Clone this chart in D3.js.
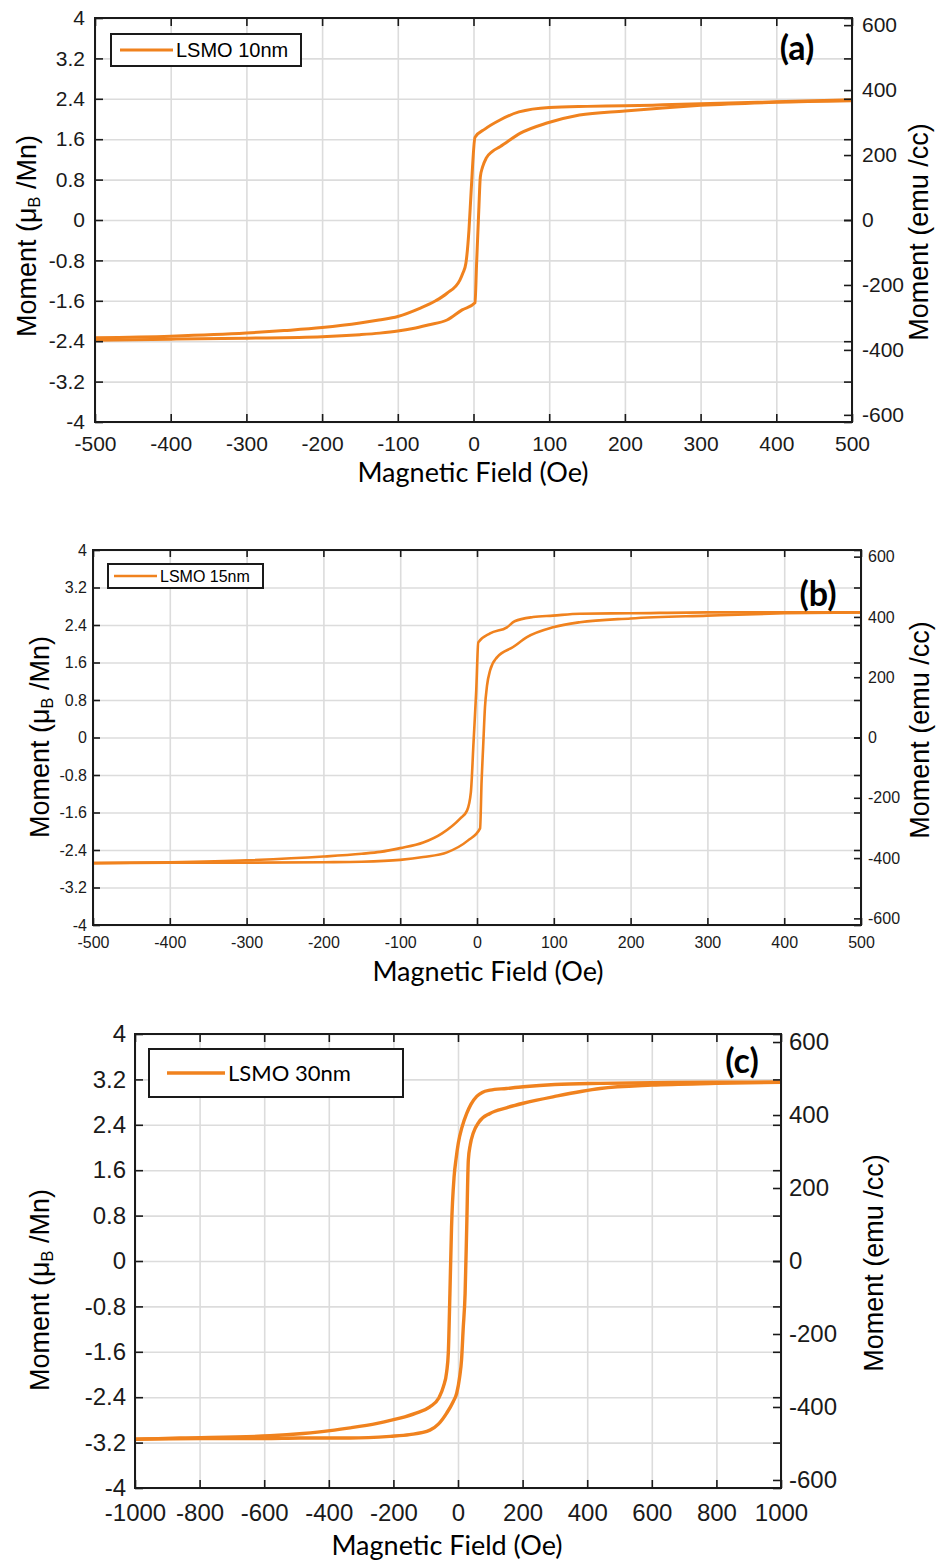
<!DOCTYPE html>
<html>
<head>
<meta charset="utf-8">
<script src="https://cdn.jsdelivr.net/npm/d3@7"></script>
<style>
  body { margin: 0; background: #fff; }
  svg { display: block; }
</style>
</head>
<body>
<svg id="fig" width="936" height="1562"></svg>
<script>
// ---- data ----
const momentTicks = [-4, -3.2, -2.4, -1.6, -0.8, 0, 0.8, 1.6, 2.4, 3.2, 4];
const emuTicks = [-600, -400, -200, 0, 200, 400, 600];
const emuPerMoment = 155.5;   // 4 uB/Mn <-> ~622 emu/cc
const fieldTicks500 = [-500, -400, -300, -200, -100, 0, 100, 200, 300, 400, 500];
const fieldTicks1000 = [-1000, -800, -600, -400, -200, 0, 200, 400, 600, 800, 1000];

// LSMO 10nm
const lsmo10DownField = [500, 450, 400, 350, 300, 250, 200, 150, 100, 60, 35, 15, 2, -3, -6, -10, -14, -18, -35, -50, -71, -100, -125, -150, -200, -250, -300, -400, -500];
const lsmo10DownMoment = [2.38, 2.36, 2.34, 2.32, 2.30, 2.28, 2.26, 2.25, 2.23, 2.14, 1.98, 1.80, 1.64, 0.6, -0.2, -0.85, -1.05, -1.19, -1.45, -1.60, -1.75, -1.91, -1.98, -2.04, -2.13, -2.19, -2.24, -2.30, -2.33];
const lsmo10UpField = [-500, -400, -300, -200, -150, -124, -100, -80, -60, -35, -15, 2, 4, 7, 9, 12, 17, 25, 35, 62, 97, 140, 200, 250, 300, 400, 500];
const lsmo10UpMoment = [-2.38, -2.36, -2.34, -2.31, -2.27, -2.24, -2.20, -2.15, -2.08, -1.98, -1.78, -1.64, -0.9, 0.2, 0.85, 1.05, 1.23, 1.36, 1.45, 1.72, 1.92, 2.08, 2.16, 2.22, 2.27, 2.33, 2.36];

// LSMO 15nm
const lsmo15DownField = [500, 400, 300, 200, 134, 99, 73, 49, 39, 17, 1.7, -1, -4.5, -8, -13, -22, -46, -70, -100, -126, -150, -200, -300, -400, -500];
const lsmo15DownMoment = [2.67, 2.67, 2.67, 2.65, 2.64, 2.60, 2.57, 2.48, 2.35, 2.22, 2.03, 1.0, -0.1, -1.17, -1.56, -1.73, -2.05, -2.24, -2.36, -2.44, -2.48, -2.54, -2.62, -2.66, -2.68];
const lsmo15UpField = [-500, -400, -300, -200, -150, -100, -70, -39, -12, 4, 6, 8, 10.4, 13, 17, 26, 47, 65, 99, 134, 200, 300, 400, 500];
const lsmo15UpMoment = [-2.68, -2.67, -2.67, -2.66, -2.65, -2.61, -2.55, -2.45, -2.20, -1.94, -0.92, -0.2, 0.65, 1.1, 1.43, 1.71, 1.93, 2.14, 2.35, 2.46, 2.54, 2.60, 2.65, 2.67];

// LSMO 30nm
const lsmo30DownField = [1000, 800, 600, 440, 300, 202, 150, 99, 75, 58, 40, 27, 12, 1, -6, -12, -20, -25, -30, -35, -45, -60, -87, -130, -180, -250, -334, -396, -480, -582, -860, -1000];
const lsmo30DownMoment = [3.15, 3.15, 3.14, 3.13, 3.11, 3.07, 3.04, 3.01, 2.97, 2.90, 2.76, 2.60, 2.35, 2.08, 1.80, 1.49, 0.60, -0.57, -1.62, -1.95, -2.21, -2.42, -2.57, -2.68, -2.77, -2.86, -2.94, -2.99, -3.04, -3.08, -3.12, -3.14];
const lsmo30UpField = [-1000, -800, -600, -489, -334, -210, -150, -87, -60, -35, -15, -4, 5, 11, 16, 22, 27, 32, 38, 47, 65, 99, 150, 202, 300, 440, 600, 800, 1000];
const lsmo30UpMoment = [-3.14, -3.13, -3.13, -3.12, -3.12, -3.09, -3.06, -2.98, -2.87, -2.68, -2.48, -2.33, -2.05, -1.74, -1.20, -0.57, 0.60, 1.78, 2.05, 2.25, 2.45, 2.60, 2.70, 2.78, 2.90, 3.04, 3.10, 3.13, 3.15];

const lineColor = "#f0821e";

// ---- panel layouts ----
const panels = [
  {
    tag: "(a)", legend: "LSMO 10nm",
    left: 95, right: 852, top: 18, bottom: 422,
    xDomain: [-500, 500], xTicks: fieldTicks500,
    branches: [[lsmo10DownField, lsmo10DownMoment], [lsmo10UpField, lsmo10UpMoment]],
    lineWidth: 3, tickLen: 8, tickFont: 21, xPad: 14, yPad: 10, rPad: 10,
    xTitleX: 473, xTitleY: 482, yTitleX: 36, yTitleY: 236, rTitleX: 928, rTitleY: 232, titleFont: 27,
    legendBox: [111, 34, 190, 32], legendLine: [120, 173], legendFont: 20, legendFamily: "arm",
    tagX: 797, tagY: 60
  },
  {
    tag: "(b)", legend: "LSMO 15nm",
    left: 93, right: 861, top: 550, bottom: 925,
    xDomain: [-500, 500], xTicks: fieldTicks500,
    branches: [[lsmo15DownField, lsmo15DownMoment], [lsmo15UpField, lsmo15UpMoment]],
    lineWidth: 2.6, tickLen: 7, tickFont: 16, xPad: 12, yPad: 6, rPad: 7,
    xTitleX: 488, xTitleY: 981, yTitleX: 49, yTitleY: 737, rTitleX: 929, rTitleY: 730, titleFont: 27,
    legendBox: [108, 564, 155, 24], legendLine: [114, 157], legendFont: 16, legendFamily: "arm",
    tagX: 818, tagY: 606
  },
  {
    tag: "(c)", legend: "LSMO 30nm",
    left: 135, right: 781, top: 1034, bottom: 1488,
    xDomain: [-1000, 1000], xTicks: fieldTicks1000,
    branches: [[lsmo30DownField, lsmo30DownMoment], [lsmo30UpField, lsmo30UpMoment]],
    lineWidth: 3.4, tickLen: 8, tickFont: 24, xPad: 16, yPad: 9, rPad: 8,
    xTitleX: 447, xTitleY: 1555, yTitleX: 49, yTitleY: 1290, rTitleX: 883, rTitleY: 1263, titleFont: 27,
    legendBox: [149, 1049, 254, 48], legendLine: [167, 225], legendFont: 22, legendFamily: "cal",
    tagX: 742, tagY: 1073
  }
];

const svg = d3.select("#fig");
const armFont = "'Liberation Sans', Arial, sans-serif";
const calFont = "Lato, 'Open Sans', sans-serif";

function drawPanel(p, idx) {
  const g = svg.append("g").attr("class", "panel-" + idx);
  const w = p.right - p.left, h = p.bottom - p.top;

  const x = d3.scaleLinear().domain(p.xDomain).range([p.left, p.right]);
  const y = d3.scaleLinear().domain([-4, 4]).range([p.bottom, p.top]);
  const yEmu = d3.scaleLinear().domain([-4 * emuPerMoment, 4 * emuPerMoment]).range([p.bottom, p.top]);

  // 罫線
  const grid = g.append("g").attr("class", "grid");
  grid.append("g")
    .attr("transform", `translate(0,${p.bottom})`)
    .call(d3.axisBottom(x).tickValues(p.xTicks).tickSize(-h).tickFormat(""));
  grid.append("g")
    .attr("transform", `translate(${p.left},0)`)
    .call(d3.axisLeft(y).tickValues(momentTicks).tickSize(-w).tickFormat(""));
  grid.selectAll("path").remove();
  grid.selectAll("line").attr("stroke", "#dcdcdc").attr("stroke-width", 1.6);

  // 曲線 (each branch drawn left to right so the monotone curve can be used)
  const clipId = "clip" + idx;
  g.append("clipPath").attr("id", clipId)
    .append("rect").attr("x", p.left).attr("y", p.top).attr("width", w).attr("height", h);
  const line = d3.line()
    .x(d => x(d[0])).y(d => y(d[1]))
    .curve(d3.curveMonotoneX);
  p.branches.forEach(([hs, ms]) => {
    const pts = hs.map((v, i) => [v, ms[i]]).sort((a, b) => a[0] - b[0]);
    g.append("path")
      .datum(pts)
      .attr("clip-path", `url(#${clipId})`)
      .attr("d", line)
      .attr("fill", "none")
      .attr("stroke", lineColor)
      .attr("stroke-width", p.lineWidth)
      .attr("stroke-linejoin", "round");
  });

  // 軸
  const fmt = d => String(d);
  const axes = g.append("g").attr("class", "axes");
  axes.append("g")
    .attr("transform", `translate(0,${p.bottom})`)
    .call(d3.axisBottom(x).tickValues(p.xTicks).tickSize(-p.tickLen).tickSizeOuter(0).tickPadding(p.xPad).tickFormat(fmt));
  axes.append("g")
    .attr("transform", `translate(0,${p.top})`)
    .call(d3.axisTop(x).tickValues(p.xTicks).tickSize(-p.tickLen).tickSizeOuter(0).tickFormat(""));
  axes.append("g")
    .attr("transform", `translate(${p.left},0)`)
    .call(d3.axisLeft(y).tickValues(momentTicks).tickSize(-p.tickLen).tickSizeOuter(0).tickPadding(p.yPad).tickFormat(fmt));
  axes.append("g")
    .attr("transform", `translate(${p.right},0)`)
    .call(d3.axisRight(y).tickValues(momentTicks).tickSize(-p.tickLen).tickSizeOuter(0).tickFormat(""));
  axes.append("g")
    .attr("transform", `translate(${p.right},0)`)
    .call(d3.axisRight(yEmu).tickValues(emuTicks).tickSize(-p.tickLen).tickSizeOuter(0).tickPadding(p.rPad).tickFormat(fmt));
  axes.selectAll("path").remove();
  axes.selectAll("line").attr("stroke", "#1a1a1a").attr("stroke-width", 1.6);
  axes.selectAll("text")
    .attr("fill", "#1a1a1a")
    .style("font-family", armFont)
    .style("font-size", p.tickFont + "px");

  // 枠
  g.append("rect")
    .attr("x", p.left).attr("y", p.top).attr("width", w).attr("height", h)
    .attr("fill", "none").attr("stroke", "#1a1a1a").attr("stroke-width", 2);

  // 軸ラベル
  g.append("text")
    .attr("x", p.xTitleX).attr("y", p.xTitleY)
    .attr("text-anchor", "middle")
    .style("font-family", calFont).style("font-size", "27px")
    .text("Magnetic Field (Oe)");

  const yt = g.append("text")
    .attr("transform", `translate(${p.yTitleX},${p.yTitleY}) rotate(-90)`)
    .attr("text-anchor", "middle")
    .style("font-family", armFont).style("font-size", p.titleFont + "px");
  yt.append("tspan").text("Moment (\u03bc");
  yt.append("tspan").attr("font-size", "60%").attr("dy", "0.25em").text("B");
  yt.append("tspan").attr("dy", "-0.15em").text(" /Mn)");

  g.append("text")
    .attr("transform", `translate(${p.rTitleX},${p.rTitleY}) rotate(-90)`)
    .attr("text-anchor", "middle")
    .style("font-family", armFont).style("font-size", p.titleFont + "px")
    .text("Moment (emu /cc)");

  // 凡例
  const [lx, ly, lw, lh] = p.legendBox;
  const leg = g.append("g").attr("class", "legend");
  leg.append("rect")
    .attr("x", lx).attr("y", ly).attr("width", lw).attr("height", lh)
    .attr("fill", "#fff").attr("stroke", "#1a1a1a").attr("stroke-width", 2);
  leg.append("line")
    .attr("x1", p.legendLine[0]).attr("x2", p.legendLine[1])
    .attr("y1", ly + lh / 2).attr("y2", ly + lh / 2)
    .attr("stroke", lineColor).attr("stroke-width", p.lineWidth);
  leg.append("text")
    .attr("x", p.legendLine[1] + 3).attr("y", ly + lh / 2)
    .attr("dy", "0.36em")
    .style("font-family", p.legendFamily === "cal" ? calFont : armFont)
    .style("font-size", p.legendFont + "px")
    .text(p.legend);

  // パネル記号
  g.append("text")
    .attr("x", p.tagX).attr("y", p.tagY)
    .attr("text-anchor", "middle")
    .style("font-family", calFont).style("font-size", "34px").style("font-weight", "bold")
    .text(p.tag);
}

panels.forEach(drawPanel);
</script>
</body>
</html>
